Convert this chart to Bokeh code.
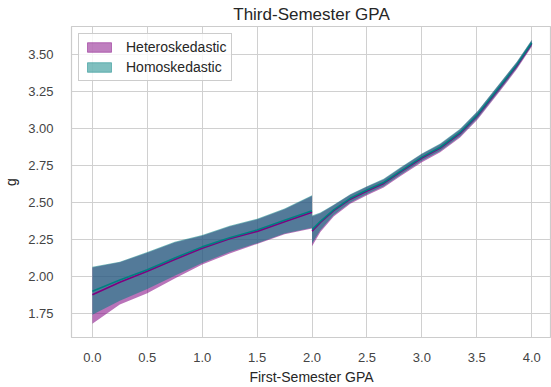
from bokeh.plotting import figure
from bokeh.models import ColumnDataSource, Range1d, FixedTicker, PrintfTickFormatter, Legend, LegendItem
from bokeh.embed import file_html
from bokeh.resources import INLINE

# Left segment (first-semester GPA below 2.0)
x_left = [0.0, 0.25, 0.5, 0.75, 1.0, 1.25, 1.5, 1.75, 2.0]
het_mean_left = [1.875, 1.96, 2.035, 2.115, 2.19, 2.255, 2.305, 2.37, 2.435]
het_low_left = [1.68, 1.81, 1.885, 1.985, 2.08, 2.155, 2.22, 2.285, 2.325]
het_up_left = [2.06, 2.095, 2.16, 2.23, 2.275, 2.338, 2.385, 2.455, 2.545]
hom_mean_left = [1.90, 1.975, 2.045, 2.125, 2.20, 2.262, 2.315, 2.38, 2.445]
hom_low_left = [1.74, 1.835, 1.915, 2.005, 2.09, 2.165, 2.225, 2.29, 2.33]
hom_up_left = [2.065, 2.10, 2.165, 2.235, 2.28, 2.343, 2.39, 2.46, 2.55]

# Right segment (first-semester GPA at or above 2.0)
x_right = [2.0, 2.076, 2.197, 2.348, 2.5, 2.652, 2.803, 3.0, 3.167, 3.348, 3.509, 3.712, 3.864, 4.0]
hom_mean_right = [2.317, 2.373, 2.451, 2.529, 2.585, 2.636, 2.712, 2.808, 2.875, 2.975, 3.098, 3.288, 3.433, 3.583]
hom_low_right = [2.222, 2.313, 2.416, 2.501, 2.559, 2.611, 2.687, 2.783, 2.850, 2.950, 3.073, 3.264, 3.411, 3.563]
hom_up_right = [2.412, 2.433, 2.486, 2.557, 2.611, 2.661, 2.737, 2.833, 2.900, 3.000, 3.123, 3.312, 3.455, 3.603]
het_mean_right = [2.306, 2.366, 2.445, 2.523, 2.579, 2.630, 2.706, 2.802, 2.869, 2.969, 3.092, 3.282, 3.427, 3.577]
het_low_right = [2.205, 2.300, 2.405, 2.492, 2.550, 2.602, 2.678, 2.774, 2.841, 2.941, 3.064, 3.256, 3.403, 3.555]
het_up_right = [2.405, 2.428, 2.482, 2.553, 2.607, 2.657, 2.733, 2.829, 2.896, 2.996, 3.119, 3.308, 3.451, 3.599]

x_ticks = [0.0, 0.5, 1.0, 1.5, 2.0, 2.5, 3.0, 3.5, 4.0]
y_ticks = [1.75, 2.0, 2.25, 2.5, 2.75, 3.0, 3.25, 3.5]

PURPLE = "#800080"
TEAL = "#008080"
FONT = "Liberation Sans"
TXT = "#262626"

p = figure(width=551, height=387, output_backend="svg", toolbar_location=None,
           x_range=Range1d(-0.19, 4.18), y_range=Range1d(1.586, 3.693),
           min_border_left=70, min_border_right=0, min_border_top=26, min_border_bottom=47,
           background_fill_color="white", border_fill_color="white")

p.title.text = "Third-Semester GPA"
p.title.align = "center"
p.title.text_font = FONT
p.title.text_font_size = "17px"
p.title.text_font_style = "normal"
p.title.text_color = TXT
p.title.offset = 0
p.title.standoff = 5

src_l = ColumnDataSource(dict(x=x_left, hm=het_mean_left, hl=het_low_left, hu=het_up_left,
                              om=hom_mean_left, ol=hom_low_left, ou=hom_up_left))
src_r = ColumnDataSource(dict(x=x_right, hm=het_mean_right, hl=het_low_right, hu=het_up_right,
                              om=hom_mean_right, ol=hom_low_right, ou=hom_up_right))

for src in (src_l, src_r):
    p.varea(x="x", y1="hl", y2="hu", source=src, fill_color=PURPLE, fill_alpha=0.55)
for src in (src_l, src_r):
    p.varea(x="x", y1="ol", y2="ou", source=src, fill_color=TEAL, fill_alpha=0.55)
for src in (src_l, src_r):
    p.line(x="x", y="hm", source=src, line_color=PURPLE, line_width=1.6)
    p.line(x="x", y="om", source=src, line_color=TEAL, line_width=1.6)

# legend proxies (placed outside the visible range)
proxy = ColumnDataSource(dict(l=[-10.0], r=[-9.0], t=[-9.0], b=[-10.0]))
leg_h = p.quad(left="l", right="r", top="t", bottom="b", source=proxy,
               fill_color=PURPLE, fill_alpha=0.5, line_color=PURPLE, line_alpha=0.45)
leg_o = p.quad(left="l", right="r", top="t", bottom="b", source=proxy,
               fill_color=TEAL, fill_alpha=0.5, line_color=TEAL, line_alpha=0.45)

legend = Legend(items=[LegendItem(label="Heteroskedastic", renderers=[leg_h]),
                       LegendItem(label="Homoskedastic", renderers=[leg_o])],
                location="top_left", margin=7, padding=5, spacing=4,
                glyph_width=30, glyph_height=12, label_standoff=12,
                label_text_font=FONT, label_text_font_size="14px", label_text_color=TXT,
                label_height=12,
                border_line_color="#cccccc", border_line_alpha=1, border_line_width=1,
                background_fill_color="white", background_fill_alpha=0.8)
p.add_layout(legend, "center")

p.xaxis.ticker = FixedTicker(ticks=x_ticks)
p.yaxis.ticker = FixedTicker(ticks=y_ticks)
p.xaxis.formatter = PrintfTickFormatter(format="%.1f")
p.yaxis.formatter = PrintfTickFormatter(format="%.2f")
p.xaxis.axis_label = "First-Semester GPA"
p.yaxis.axis_label = "g"

for ax in (p.xaxis, p.yaxis):
    ax.axis_line_color = None
    ax.major_tick_line_color = None
    ax.minor_tick_line_color = None
    ax.major_label_text_font = FONT
    ax.major_label_text_font_size = "13px"
    ax.major_label_text_color = "#444444"
    ax.axis_label_text_font = FONT
    ax.axis_label_text_font_size = "14px"
    ax.axis_label_text_font_style = "normal"
    ax.axis_label_text_color = TXT
p.xaxis.major_label_standoff = 9
p.xaxis.axis_label_standoff = 4
p.yaxis.major_label_standoff = 12
p.yaxis.axis_label_standoff = 6

p.grid.grid_line_color = "#d0d0d0"
p.grid.grid_line_width = 1
p.outline_line_color = "#cccccc"
p.outline_line_width = 1.2

open("out.html", "w").write(file_html(p, INLINE))
